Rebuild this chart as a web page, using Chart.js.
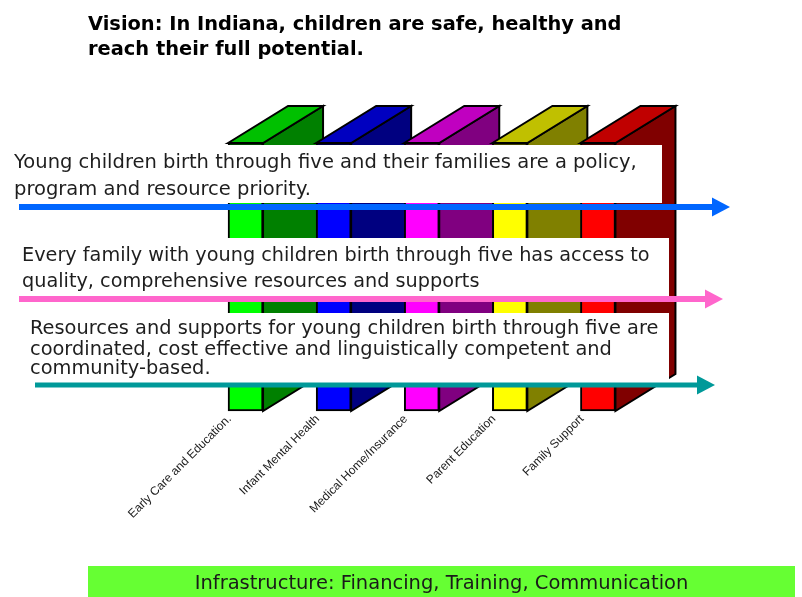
<!DOCTYPE html>
<html>
<head>
<meta charset="utf-8">
<script src="https://cdn.jsdelivr.net/npm/chart.js@4.4.0/dist/chart.umd.min.js"></script>
<style>
  html, body { margin: 0; padding: 0; background: #fff; }
</style>
</head>
<body>
<canvas id="pillarChart" width="802" height="597"></canvas>
<script>
const titleLines = ["Vision: In Indiana, children are safe, healthy and", "reach their full potential."];
const categories = ["Early Care and Education.", "Infant Mental Health", "Medical Home/Insurance", "Parent Education", "Family Support"];
const pillarValues = [1, 1, 1, 1, 1];
const goalTexts = [
    ["Young children birth through five and their families are a policy,", "program and resource priority."],
    ["Every family with young children birth through five has access to", "quality, comprehensive resources and supports"],
    ["Resources and supports for young children birth through five are", "coordinated, cost effective and linguistically competent and", "community-based."]
];
const footerText = "Infrastructure: Financing, Training, Communication";

// colours
const frontColors = ["#00ff00", "#0000ff", "#ff00ff", "#ffff00", "#ff0000"];
const topColors = ["#00c000", "#0000c0", "#c000c0", "#c0c000", "#c00000"];
const sideColors = ["#008000", "#000080", "#800080", "#808000", "#800000"];
const arrowColors = ["#0066ff", "#ff66cc", "#009999"];

// layout of the banners (box: left, top, right, bottom)
const bannerLayout = [
    { box: [8, 145, 662, 203], textX: 14, baselines: [168, 195], fitWidth: 623, arrow: [19, 730, 207], arrowWidth: 6 },
    { box: [8, 238, 669, 297], textX: 22, baselines: [261, 287], fitWidth: 628, arrow: [19, 723, 299], arrowWidth: 6 },
    { box: [8, 313, 669, 383], textX: 30, baselines: [334, 355, 374], fitWidth: 629, arrow: [35, 715, 385], arrowWidth: 5 }
];
const DEPTH_X = 60;
const DEPTH_Y = -37;
const TEXT_FONT = "'DejaVu Sans'";

function fitSize(ctx, text, width, weight) {
    ctx.font = `${weight} 20px ${TEXT_FONT}`;
    return 20 * width / ctx.measureText(text).width;
}

// side and top faces of each pillar
const pillarDepth = {
    id: "pillarDepth",
    beforeDatasetsDraw(chart) {
        const ctx = chart.ctx;
        chart.getDatasetMeta(0).data.forEach((bar, i) => {
            const p = bar.getProps(["x", "y", "base", "width"], true);
            const l = p.x - p.width / 2, r = p.x + p.width / 2;
            ctx.save();
            ctx.lineWidth = 2;
            ctx.strokeStyle = "#000";
            ctx.beginPath();
            ctx.moveTo(r, p.y);
            ctx.lineTo(r + DEPTH_X, p.y + DEPTH_Y);
            ctx.lineTo(r + DEPTH_X, p.base + DEPTH_Y);
            ctx.lineTo(r, p.base);
            ctx.closePath();
            ctx.fillStyle = sideColors[i];
            ctx.fill();
            ctx.stroke();
            ctx.beginPath();
            ctx.moveTo(l, p.y);
            ctx.lineTo(l + DEPTH_X, p.y + DEPTH_Y);
            ctx.lineTo(r + DEPTH_X, p.y + DEPTH_Y);
            ctx.lineTo(r, p.y);
            ctx.closePath();
            ctx.fillStyle = topColors[i];
            ctx.fill();
            ctx.stroke();
            ctx.restore();
        });
    }
};

// goal banners, arrows, title and footer
const overlays = {
    id: "overlays",
    afterDatasetsDraw(chart) {
        const ctx = chart.ctx;
        ctx.save();
        bannerLayout.forEach((b, i) => {
            ctx.fillStyle = "#fff";
            ctx.fillRect(b.box[0], b.box[1], b.box[2] - b.box[0], b.box[3] - b.box[1]);

            const [x0, tip, y] = b.arrow;
            ctx.strokeStyle = arrowColors[i];
            ctx.lineWidth = b.arrowWidth;
            ctx.beginPath();
            ctx.moveTo(x0, y);
            ctx.lineTo(tip - 16, y);
            ctx.stroke();
            ctx.fillStyle = arrowColors[i];
            ctx.beginPath();
            ctx.moveTo(tip - 18, y - 9.5);
            ctx.lineTo(tip, y);
            ctx.lineTo(tip - 18, y + 9.5);
            ctx.closePath();
            ctx.fill();

            const size = fitSize(ctx, goalTexts[i][0], b.fitWidth, "normal");
            ctx.font = `normal ${size}px ${TEXT_FONT}`;
            ctx.fillStyle = "#1e1e1e";
            ctx.textAlign = "left";
            ctx.textBaseline = "alphabetic";
            goalTexts[i].forEach((line, j) => ctx.fillText(line, b.textX, b.baselines[j]));
        });

        // title
        const tSize = fitSize(ctx, titleLines[0], 534, "bold");
        ctx.font = `bold ${tSize}px ${TEXT_FONT}`;
        ctx.fillStyle = "#000";
        ctx.fillText(titleLines[0], 88, 30);
        ctx.fillText(titleLines[1], 88, 55);

        // infrastructure bar
        ctx.fillStyle = "#66ff33";
        ctx.fillRect(88, 566, 707, 31);
        const fSize = fitSize(ctx, footerText, 494, "normal");
        ctx.font = `normal ${fSize}px ${TEXT_FONT}`;
        ctx.fillStyle = "#1a1a1a";
        ctx.textAlign = "center";
        ctx.fillText(footerText, 441.5, 589);
        ctx.restore();
    }
};

new Chart(document.getElementById("pillarChart"), {
    type: "bar",
    data: {
        labels: categories,
        datasets: [{
            data: pillarValues,
            backgroundColor: frontColors,
            borderColor: "#000",
            borderWidth: 2,
            borderSkipped: false,
            barThickness: 35,
            clip: false
        }]
    },
    options: {
        responsive: false,
        animation: false,
        layout: { padding: { left: 201.5, right: 160, top: 143, bottom: 0 } },
        plugins: { legend: { display: false }, tooltip: { enabled: false } },
        scales: {
            x: {
                grid: { display: false, drawTicks: false },
                border: { display: false },
                ticks: {
                    autoSkip: false,
                    minRotation: 45,
                    maxRotation: 45,
                    padding: 1,
                    labelOffset: -16,
                    color: "#1a1a1a",
                    font: { family: "'Liberation Sans'", size: 12 }
                },
                afterFit: (scale) => { scale.height = 186; }
            },
            y: { display: false, min: 0, max: 1 }
        }
    },
    plugins: [pillarDepth, overlays]
});
</script>
</body>
</html>
